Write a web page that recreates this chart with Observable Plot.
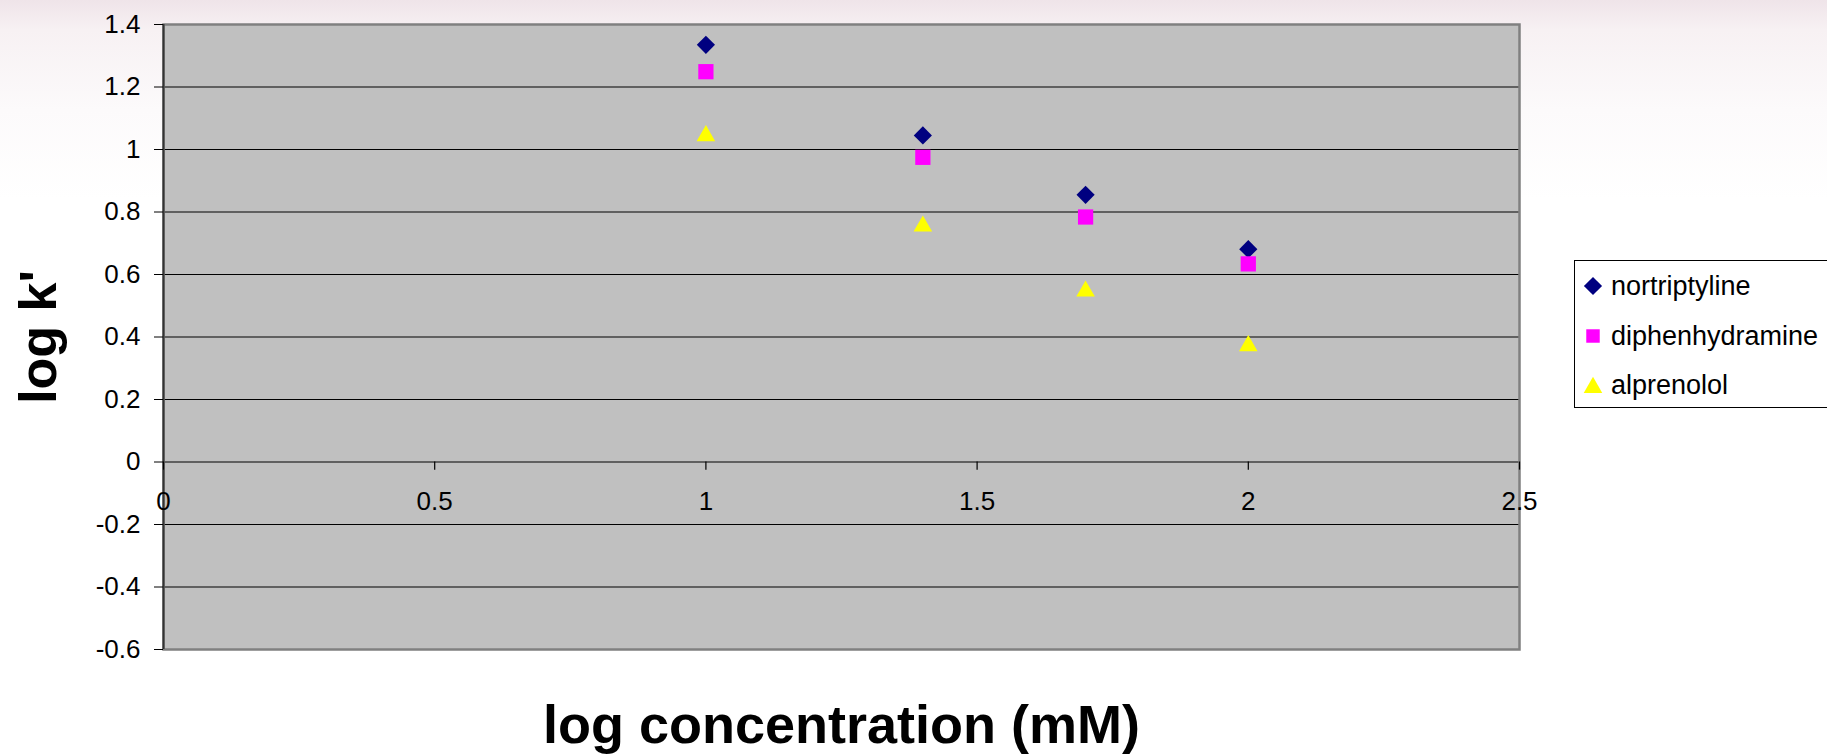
<!DOCTYPE html>
<html>
<head>
<meta charset="utf-8">
<script src="https://cdn.jsdelivr.net/npm/d3@7"></script>
<script src="https://cdn.jsdelivr.net/npm/@observablehq/plot@0.6"></script>
<style>
  html, body { margin: 0; padding: 0; }
  body {
    width: 1827px; height: 756px; overflow: hidden; position: relative;
    font-family: "Liberation Sans", Arial, sans-serif;
    background: linear-gradient(180deg, #efe4e9 0px, #f7f1f3 30px, #fcfafb 110px, #ffffff 200px);
  }
  #legend {
    position: absolute; left: 1574px; top: 260px; width: 270px; height: 148px;
    box-sizing: border-box; border: 1.5px solid #000; background: #fff;
    font-family: "Liberation Sans", Arial, sans-serif; font-size: 27px; color: #000;
  }
  .row { position: absolute; left: 0; height: 40px; display: flex; align-items: center; }
  .row svg { margin-left: 8px; margin-right: 8px; }
</style>
</head>
<body>
<div id="chart"></div>
<div id="legend"></div>
<script>
const xValues = [1, 1.4, 1.7, 2];
const nortriptyline = [1.335, 1.045, 0.855, 0.681];
const diphenhydramine = [1.249, 0.975, 0.784, 0.634];
const alprenolol = [1.052, 0.763, 0.555, 0.380];
const seriesNames = ["nortriptyline", "diphenhydramine", "alprenolol"];
const seriesColors = ["#000080", "#FF00FF", "#FFFF00"];
const seriesSymbols = ["diamond2", "square", "triangle"];
const yTicks = [-0.6, -0.4, -0.2, 0, 0.2, 0.4, 0.6, 0.8, 1, 1.2, 1.4];
const xTicks = [0, 0.5, 1, 1.5, 2, 2.5];
const xTickLabels = ["0", "0.5", "1", "1.5", "2", "2.5"];
const xTitle = "log concentration (mM)";
const yTitle = "log k'";

const seriesValues = [nortriptyline, diphenhydramine, alprenolol];
const data = seriesNames.flatMap((name, i) =>
  xValues.map((x, j) => ({series: name, x, y: seriesValues[i][j]})));

const symbolR = {diamond2: 8.2, square: 8.6, triangle: 6.9};
const dots = seriesNames.map((name, i) =>
  Plot.dot(data.filter(d => d.series === name), {
    x: "x", y: "y", symbol: () => seriesSymbols[i],
    fill: seriesColors[i], stroke: "none", r: symbolR[seriesSymbols[i]],
    dy: seriesSymbols[i] === "triangle" ? 2.6 : 0
  }));

const chart = Plot.plot({
  width: 1827,
  height: 756,
  marginLeft: 163,
  marginRight: 308,
  marginTop: 24,
  marginBottom: 107,
  style: {background: "transparent", fontFamily: "Liberation Sans, Arial, sans-serif", color: "#000"},
  x: {domain: [0, 2.5], axis: null},
  y: {domain: [-0.6, 1.4], axis: null},
  symbol: {type: "identity"},
  marks: [
    Plot.frame({fill: "#C0C0C0", stroke: "none"}),
    Plot.ruleY(yTicks, {stroke: "#000", strokeWidth: 1.2}),
    Plot.frame({stroke: "#808080", strokeWidth: 2.5}),
    Plot.ruleX([0], {stroke: "#333", strokeWidth: 2}),
    Plot.axisY({ticks: yTicks, tickSize: 9, tickPadding: 14, fontSize: 26, stroke: "#000",
      tickFormat: d => String(d), label: null}),
    Plot.ruleX(xTicks, {x: d => d, y1: 0, y2: -0.026, stroke: "#000", strokeWidth: 1.2}),
    Plot.text(xTicks, {x: d => d, y: () => 0, text: (d, i) => xTickLabels[i],
      fontSize: 26, dy: 40, lineAnchor: "middle", textAnchor: "middle", fill: "#000"}),
    ...dots,
    Plot.text([yTitle], {frameAnchor: "left", text: d => d, rotate: -90, dx: -108,
      lineAnchor: "bottom", textAnchor: "middle", fontSize: 52, fontWeight: "bold", fill: "#000"}),
    Plot.text([xTitle], {frameAnchor: "bottom", text: d => d, dy: 93,
      lineAnchor: "bottom", textAnchor: "middle", fontSize: 54, fontWeight: "bold", fill: "#000"})
  ]
});
document.getElementById("chart").appendChild(chart);

// Legend
const legend = document.getElementById("legend");
const rowCenters = [25, 75, 124];
const legendR = {diamond2: 8.2, square: 7.6, triangle: 6.9};
const symbolMap = {diamond2: d3.symbolDiamond2, square: d3.symbolSquare, triangle: d3.symbolTriangle};
seriesNames.forEach((name, i) => {
  const row = document.createElement("div");
  row.className = "row";
  row.style.top = (rowCenters[i] - 20) + "px";
  const s = seriesSymbols[i];
  const r = legendR[s];
  const path = d3.symbol(symbolMap[s], Math.PI * r * r)();
  const off = s === "triangle" ? 2.6 : 0;
  row.innerHTML = `<svg width="20" height="20" viewBox="-10 -10 20 20"><path d="${path}" transform="translate(0,${off})" fill="${seriesColors[i]}"/></svg><span>${name}</span>`;
  legend.appendChild(row);
});
</script>
</body>
</html>
